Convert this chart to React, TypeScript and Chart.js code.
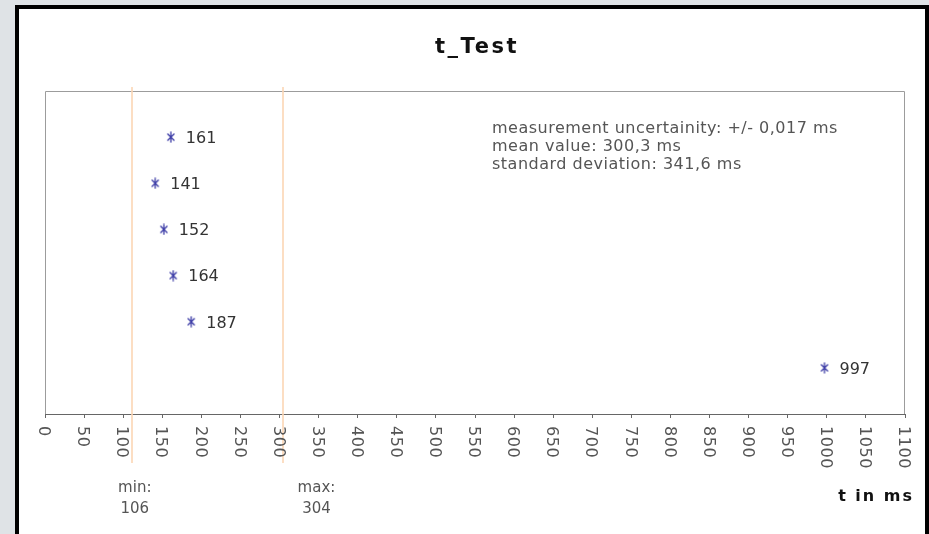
import React, { useEffect, useRef } from 'react';
import { Chart, registerables } from 'chart.js';

Chart.register(...registerables);

// ---- data ----
const TITLE = 't_Test';
const X_TITLE = 't in ms';
const timesMs = [161, 141, 152, 164, 187, 997];
const rowIndex = [6, 5, 4, 3, 2, 1];
const pointLabels = ['161', '141', '152', '164', '187', '997'];
const xMin = 0;
const xMax = 1100;
const xStep = 50;
const yMin = 0;
const yMax = 7;
const rangeLineValues = [111, 305];
const rangeLabelTop = ['min:', 'max:'];
const rangeLabelBottom = ['106', '304'];
const statsLines = [
  'measurement uncertainity: +/- 0,017 ms',
  'mean value: 300,3 ms',
  'standard deviation: 341,6 ms',
];

const FONT = '"DejaVu Sans", Verdana, sans-serif';

function makeMarker(): HTMLCanvasElement {
  const c = document.createElement('canvas');
  c.width = 10;
  c.height = 12;
  const g = c.getContext('2d')!;
  g.strokeStyle = '#3b3ba6';
  g.lineWidth = 1.3;
  g.beginPath();
  g.moveTo(1.5, 2.5); g.lineTo(8.5, 9.5);
  g.moveTo(8.5, 2.5); g.lineTo(1.5, 9.5);
  g.moveTo(5, 0.5); g.lineTo(5, 11.5);
  g.stroke();
  return c;
}

const overlay = {
  id: 'overlay',
  beforeDatasetsDraw(chart: any) {
    const { ctx, chartArea: a, scales } = chart;
    const x = scales.x;
    ctx.save();
    ctx.lineWidth = 1;
    ctx.strokeStyle = '#9c9c9c';
    const l = Math.round(a.left) + 0.5;
    const r = Math.round(a.right) - 0.5;
    const t = Math.round(a.top) + 0.5;
    const b = Math.round(a.bottom);
    ctx.beginPath();
    ctx.moveTo(l, b); ctx.lineTo(l, t); ctx.lineTo(r, t); ctx.lineTo(r, b);
    ctx.stroke();
    ctx.strokeStyle = '#fcd6b4';
    ctx.lineWidth = 1.6;
    rangeLineValues.forEach((v) => {
      const px = Math.round(x.getPixelForValue(v));
      ctx.beginPath();
      ctx.moveTo(px, a.top - 4);
      ctx.lineTo(px, a.bottom + 49);
      ctx.stroke();
    });
    ctx.restore();
  },
  afterDraw(chart: any) {
    const { ctx, chartArea: a, scales } = chart;
    const x = scales.x;
    const y = scales.y;
    ctx.save();

    // rotated tick labels
    ctx.font = `16px ${FONT}`;
    (ctx as any).letterSpacing = '0.6px';
    ctx.fillStyle = '#555';
    ctx.textAlign = 'left';
    ctx.textBaseline = 'alphabetic';
    x.ticks.forEach((tk: any) => {
      const px = x.getPixelForValue(tk.value);
      ctx.save();
      ctx.translate(px, a.bottom + 12);
      ctx.rotate(Math.PI / 2);
      ctx.fillText(String(tk.value), 0, 5.8);
      ctx.restore();
    });

    // point labels
    (ctx as any).letterSpacing = '0px';
    ctx.fillStyle = '#333';
    timesMs.forEach((v, i) => {
      const px = x.getPixelForValue(v);
      const py = y.getPixelForValue(rowIndex[i]);
      ctx.fillText(pointLabels[i], px + 15, py + 5.8);
    });

    // stats
    (ctx as any).letterSpacing = '0.5px';
    ctx.fillStyle = '#555';
    statsLines.forEach((s, i) => {
      ctx.fillText(s, a.left + 447, a.top + 42 + i * 18);
    });

    // min / max labels
    (ctx as any).letterSpacing = '0px';
    ctx.font = `15px ${FONT}`;
    ctx.textAlign = 'center';
    const offsets = [3, 33];
    rangeLineValues.forEach((v, i) => {
      const px = x.getPixelForValue(v) + offsets[i];
      ctx.fillText(rangeLabelTop[i], px, a.bottom + 78);
      ctx.fillText(rangeLabelBottom[i], px, a.bottom + 99);
    });

    // title
    ctx.fillStyle = '#111';
    ctx.font = `bold 21px ${FONT}`;
    (ctx as any).letterSpacing = '2.5px';
    ctx.textAlign = 'center';
    ctx.fillText(TITLE, (a.left + a.right) / 2 + 2, 44);

    // axis title
    ctx.font = `bold 16px ${FONT}`;
    (ctx as any).letterSpacing = '2px';
    ctx.textAlign = 'right';
    ctx.fillText(X_TITLE, a.right + 9, a.bottom + 87);
    (ctx as any).letterSpacing = '0px';

    ctx.restore();
  },
};

export default function App() {
  const ref = useRef<HTMLCanvasElement | null>(null);

  useEffect(() => {
    if (!ref.current) return;
    const marker = makeMarker();
    const chart = new Chart(ref.current, {
      type: 'scatter',
      data: {
        datasets: [
          {
            data: timesMs.map((v, i) => ({ x: v, y: rowIndex[i] })),
            pointStyle: marker as any,
            pointRadius: 5,
            pointHoverRadius: 5,
          },
        ],
      },
      options: {
        animation: false,
        responsive: false,
        devicePixelRatio: 1,
        layout: { padding: { left: 26, right: 20, top: 82, bottom: 120 } },
        plugins: {
          legend: { display: false },
          title: { display: false },
          tooltip: { enabled: false },
        },
        events: [],
        scales: {
          x: {
            type: 'linear',
            min: xMin,
            max: xMax,
            afterFit: (s: any) => { s.height = 0; },
            ticks: { stepSize: xStep, display: false, autoSkip: false },
            grid: {
              drawOnChartArea: false,
              drawTicks: true,
              tickLength: 4,
              color: '#666',
            },
            border: { display: true, color: '#666', width: 1 },
          },
          y: {
            type: 'linear',
            min: yMin,
            max: yMax,
            display: false,
          },
        },
      },
      plugins: [overlay],
    });
    return () => chart.destroy();
  }, []);

  return (
    <div
      style={{
        position: 'fixed',
        left: 0,
        top: 0,
        width: 929,
        height: 534,
        overflow: 'hidden',
        background: '#dfe3e6',
      }}
    >
      <div
        style={{
          position: 'absolute',
          left: 15,
          top: 5,
          width: 906,
          height: 525,
          borderTop: '4px solid #000',
          borderLeft: '4px solid #000',
          borderRight: '4px solid #000',
          background: '#fff',
          overflow: 'hidden',
        }}
      >
        <canvas ref={ref} width={906} height={525} style={{ display: 'block', width: 906, height: 525 }} />
      </div>
    </div>
  );
}
